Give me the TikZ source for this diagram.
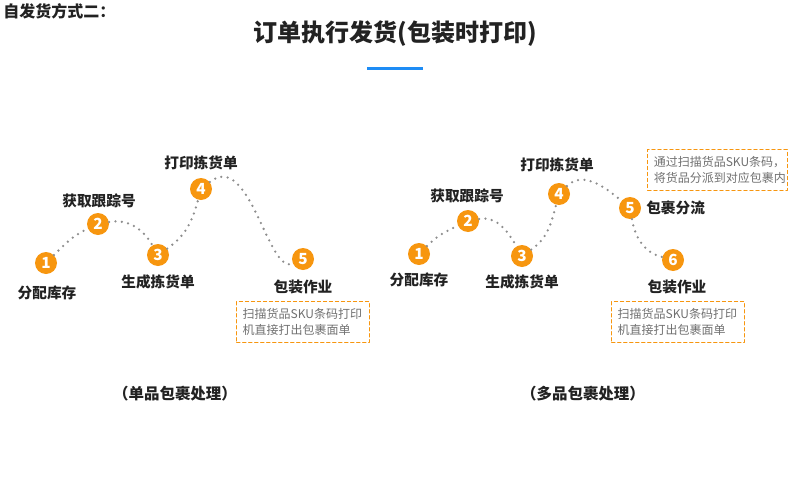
\documentclass[tikz,border=0pt]{standalone}
\usepackage{fontspec}
\setmainfont{Noto Sans CJK SC}
\usetikzlibrary{positioning}
\definecolor{myorange}{HTML}{F7960F}
\definecolor{myblue}{HTML}{1E8CF5}
\definecolor{mygray}{HTML}{8E8E8E}
\definecolor{mytext}{HTML}{222222}
\definecolor{mynote}{HTML}{707070}

\begin{document}
\begin{tikzpicture}[
		x=0.75pt,
		y=0.75pt,
		line cap=round,
		line join=round,
		stepdot/.style={circle,fill=myorange,draw=none,minimum size=16.5pt,inner sep=0pt,
			text=white,font=\fontsize{11.5}{12}\selectfont\bfseries},
		steplabel/.style={font=\fontsize{11}{13}\selectfont\bfseries,text=mytext,inner sep=0pt},
		notebox/.style={draw=myorange,dashed,dash pattern=on 2.5pt off 2pt,line width=0.75pt,
			font=\fontsize{9}{12}\selectfont,text=mynote,align=left,inner xsep=4.5pt,
			text width=90.5pt,minimum height=30.5pt},
		caption/.style={font=\fontsize{11.6}{13}\selectfont\bfseries,text=mytext},
		trail/.style={draw=mygray,line width=1.9pt,dash pattern=on 0pt off 4.8pt,line cap=round}
	]
	
	% Canvas
	\useasboundingbox (0,0) rectangle (790,-500);
	
	% Titles
	\node[anchor=west,font=\fontsize{12}{14}\selectfont\bfseries,text=mytext,inner sep=0pt] (kind) at (3,-11) {自发货方式二：};
	\node[font=\fontsize{18}{20}\selectfont\bfseries,text=mytext] (title) at (395,-34) {订单执行发货(包装时打印)};
	\coordinate (barl) at (367,-68.3);
	\coordinate (barr) at (423,-68.3);
	\draw[myblue,line width=2.2pt,line cap=butt] (barl) -- (barr);
	
	% Single item: steps
	\node[stepdot] (l1) at (46,-263) {1};
	\node[stepdot] (l2) at (98,-224) {2};
	\node[stepdot] (l3) at (158,-255) {3};
	\node[stepdot] (l4) at (201,-189) {4};
	\node[stepdot] (l5) at (303,-259) {5};
	
	% Single item: trail
	\draw[trail] (l1) to[out=45,in=205] (l2);
	\draw[trail] (l2) to[out=10,in=120] (l3);
	\draw[trail] (l3) to[out=35,in=-105] (l4);
	\draw[trail] (l4) .. controls (250,-150) and (268,-275) .. (l5);
	
	% Single item: labels
	\node[steplabel] at (47,-293) {分配库存};
	\node[steplabel] at (99,-200.5) {获取跟踪号};
	\node[steplabel] at (158,-281.5) {生成拣货单};
	\node[steplabel] at (201,-162.5) {打印拣货单};
	\node[steplabel] at (303,-286.5) {包装作业};
	\node[notebox] (lnote) at (303,-322) {扫描货品SKU条码打印\\机直接打出包裹面单};
	
	% Multi item: steps
	\node[stepdot] (r1) at (419,-254) {1};
	\node[stepdot] (r2) at (468,-221) {2};
	\node[stepdot] (r3) at (522,-256) {3};
	\node[stepdot] (r4) at (559,-194) {4};
	\node[stepdot] (r5) at (630,-208) {5};
	\node[stepdot] (r6) at (673,-260) {6};
	
	% Multi item: trail
	\draw[trail] (r1) to[out=45,in=205] (r2);
	\draw[trail] (r2) to[out=10,in=120] (r3);
	\draw[trail] (r3) to[out=35,in=-105] (r4);
	\draw[trail] (r4) to[out=45,in=140] (r5);
	\draw[trail] (r5) to[out=-80,in=165] (r6);
	
	% Multi item: labels
	\node[steplabel] at (419,-280) {分配库存};
	\node[steplabel] at (467,-196) {获取跟踪号};
	\node[steplabel] at (522,-281.5) {生成拣货单};
	\node[steplabel] at (557,-164.5) {打印拣货单};
	\node[steplabel,anchor=west] at (646,-208) {包裹分流};
	\node[steplabel] at (677,-286.5) {包装作业};
	\node[notebox,text width=95.5pt] (rsort) at (717.5,-170) {通过扫描货品SKU条码，\\将货品分派到对应包裹内};
	\node[notebox] (rnote) at (678,-322) {扫描货品SKU条码打印\\机直接打出包裹面单};
	
	% Captions
	\node[caption] (lcap) at (175,-394) {（单品包裹处理）};
	\node[caption] (rcap) at (583,-394) {（多品包裹处理）};
	
\end{tikzpicture}
\end{document}
